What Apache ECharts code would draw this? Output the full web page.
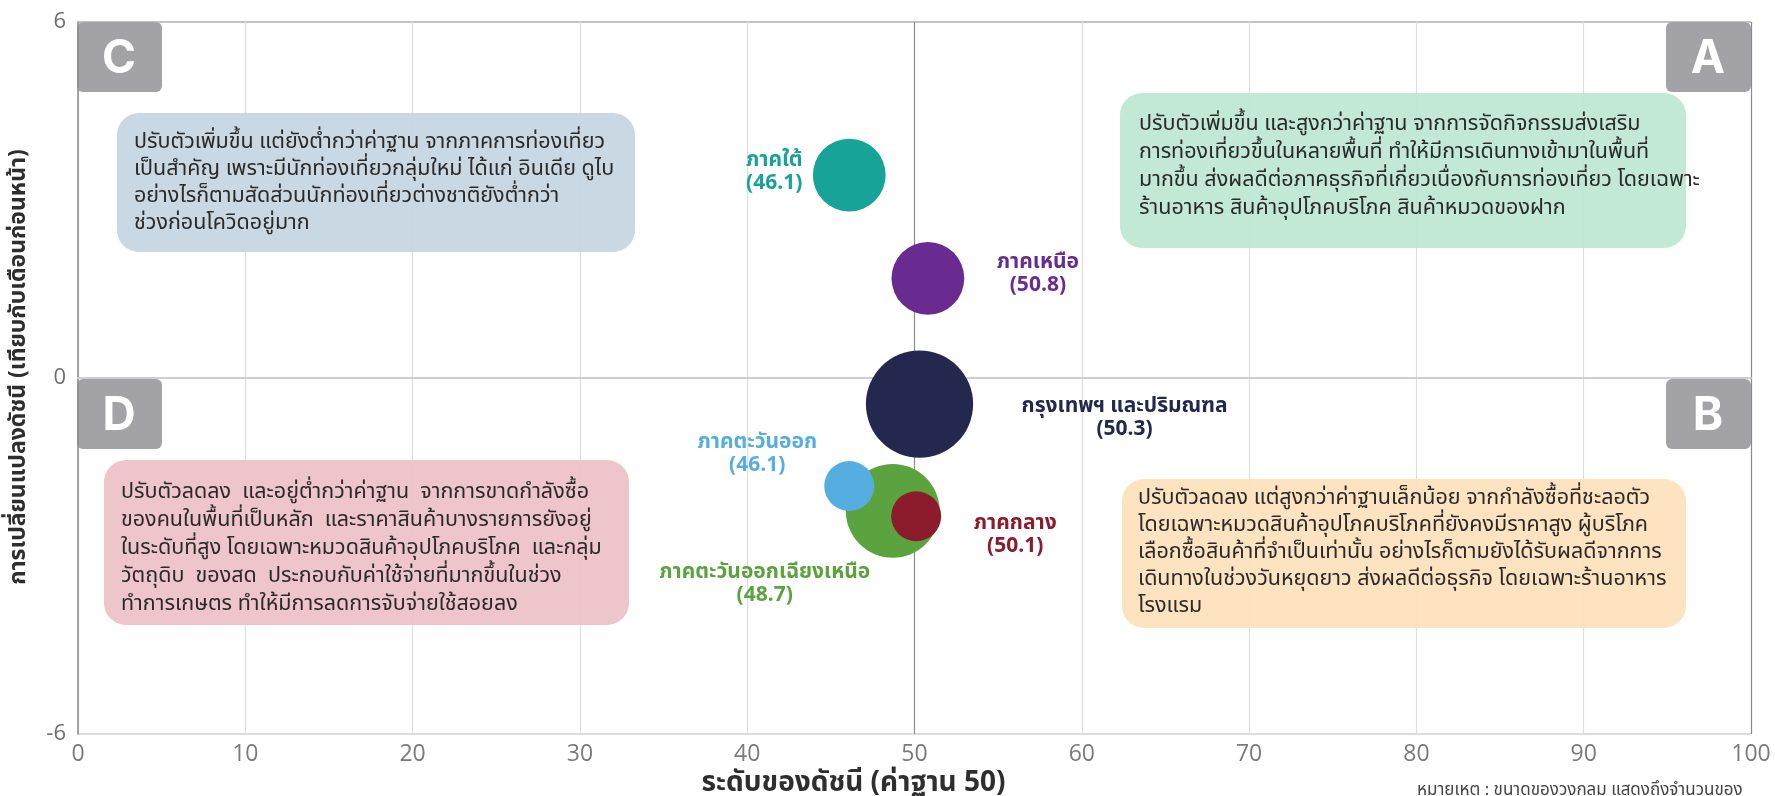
<!DOCTYPE html>
<html>
<head>
<meta charset="utf-8">
<script src="https://cdn.jsdelivr.net/npm/echarts@6/dist/echarts.min.js"></script>
<style>
  html, body { margin: 0; padding: 0; background: #ffffff; }
  #chart { width: 1775px; height: 796px; }
</style>
</head>
<body>
<div id="chart"></div>
<script>
// ---- data -------------------------------------------------------------
const regions = ['ภาคใต้', 'ภาคเหนือ', 'กรุงเทพฯ และปริมณฑล', 'ภาคตะวันออกเฉียงเหนือ', 'ภาคตะวันออก', 'ภาคกลาง'];
const indexLevel = [46.1, 50.8, 50.3, 48.7, 46.1, 50.1];        // ระดับของดัชนี
const monthlyChange = [3.42, 1.68, -0.44, -2.24, -1.82, -2.33];  // การเปลี่ยนแปลงดัชนี
const sampleWeight = [53, 53, 115, 88, 25, 25];                  // relative number of respondents
const xTicks = [0, 10, 20, 30, 40, 50, 60, 70, 80, 90, 100];
const yTicks = [-6, 0, 6];

const quadrantNotes = {
  A: ['ปรับตัวเพิ่มขึ้น และสูงกว่าค่าฐาน จากการจัดกิจกรรมส่งเสริม',
      'การท่องเที่ยวขึ้นในหลายพื้นที่ ทำให้มีการเดินทางเข้ามาในพื้นที่',
      'มากขึ้น ส่งผลดีต่อภาคธุรกิจที่เกี่ยวเนื่องกับการท่องเที่ยว โดยเฉพาะ',
      'ร้านอาหาร สินค้าอุปโภคบริโภค สินค้าหมวดของฝาก'],
  B: ['ปรับตัวลดลง แต่สูงกว่าค่าฐานเล็กน้อย จากกำลังซื้อที่ชะลอตัว',
      'โดยเฉพาะหมวดสินค้าอุปโภคบริโภคที่ยังคงมีราคาสูง ผู้บริโภค',
      'เลือกซื้อสินค้าที่จำเป็นเท่านั้น อย่างไรก็ตามยังได้รับผลดีจากการ',
      'เดินทางในช่วงวันหยุดยาว ส่งผลดีต่อธุรกิจ โดยเฉพาะร้านอาหาร',
      'โรงแรม'],
  C: ['ปรับตัวเพิ่มขึ้น แต่ยังต่ำกว่าค่าฐาน จากภาคการท่องเที่ยว',
      'เป็นสำคัญ เพราะมีนักท่องเที่ยวกลุ่มใหม่ ได้แก่ อินเดีย ดูไบ',
      'อย่างไรก็ตามสัดส่วนนักท่องเที่ยวต่างชาติยังต่ำกว่า',
      'ช่วงก่อนโควิดอยู่มาก'],
  D: ['ปรับตัวลดลง  และอยู่ต่ำกว่าค่าฐาน  จากการขาดกำลังซื้อ',
      'ของคนในพื้นที่เป็นหลัก  และราคาสินค้าบางรายการยังอยู่',
      'ในระดับที่สูง โดยเฉพาะหมวดสินค้าอุปโภคบริโภค  และกลุ่ม',
      'วัตถุดิบ  ของสด  ประกอบกับค่าใช้จ่ายที่มากขึ้นในช่วง',
      'ทำการเกษตร ทำให้มีการลดการจับจ่ายใช้สอยลง']
};

// ---- styling ----------------------------------------------------------
const FONT = '"Noto Sans Thai", "Noto Sans", "DejaVu Sans", sans-serif';
const regionColors = ['#17a398', '#6a2b91', '#25284e', '#5ba33f', '#55ade0', '#8c1b2b'];
const labelOffsets = [[-75, -2], [110, -3], [205, 15], [-128, 74], [-92, -31], [99, 20]];

const xSplitColors = xTicks.map(v => v === 50 ? '#8e8e8e' : (v === 100 ? '#8a8a8a' : '#dedede'));
const ySplitColors = yTicks.map(v => v === 0 ? '#8e8e8e' : (v === 6 ? '#b0b0b0' : '#d0d0d0'));

const bubbles = regions.map((name, i) => ({
  name: name,
  value: [indexLevel[i], monthlyChange[i], sampleWeight[i]],
  itemStyle: { color: regionColors[i], opacity: 1 },
  label: {
    show: true,
    position: 'inside',
    offset: labelOffsets[i],
    formatter: name + '\n(' + indexLevel[i].toFixed(1) + ')',
    color: regionColors[i],
    fontFamily: FONT,
    fontWeight: 'bold',
    fontSize: 21,
    lineHeight: 23,
    align: 'center',
    verticalAlign: 'middle'
  }
}));

const option = {
  animation: false,
  backgroundColor: '#ffffff',
  grid: { left: 78, right: 24, top: 22, bottom: 62, containLabel: false, outerBoundsMode: 'none' },
  xAxis: {
    type: 'value',
    min: 0, max: 100, interval: 10,
    name: 'ระดับของดัชนี (ค่าฐาน 50)',
    nameLocation: 'middle',
    nameGap: 32,
    nameTextStyle: { fontFamily: FONT, fontWeight: 'bold', fontSize: 28, color: '#2e2e2e',
                     padding: [0, 122, 0, 0] },
    axisLine: { show: true, lineStyle: { color: '#cfcfcf', width: 2 } },
    axisTick: { show: false },
    axisLabel: { fontFamily: '"Open Sans", sans-serif', fontSize: 23, color: '#7a7a7a', margin: 9,
                 formatter: v => String(v) },
    splitLine: { show: true, lineStyle: { color: xSplitColors, width: 1.2 } }
  },
  yAxis: {
    type: 'value',
    min: -6, max: 6, interval: 6,
    name: 'การเปลี่ยนแปลงดัชนี (เทียบกับเดือนก่อนหน้า)',
    nameLocation: 'middle',
    nameGap: 46,
    nameRotate: 90,
    nameTextStyle: { fontFamily: FONT, fontWeight: 'bold', fontSize: 23, color: '#2e2e2e',
                     padding: [0, 0, 0, 22] },
    axisLine: { show: true, lineStyle: { color: '#8a8a8a', width: 1.5 } },
    axisTick: { show: false },
    axisLabel: { fontFamily: '"Open Sans", sans-serif', fontSize: 22, color: '#6e6e6e', margin: 12 },
    splitLine: { show: true, lineStyle: { color: ySplitColors, width: 1.5 } }
  },
  series: [{
    type: 'scatter',
    data: bubbles,
    symbol: 'circle',
    symbolSize: v => Math.sqrt(v[2]) * 10,
    silent: true,
    z: 3
  }]
};

const chart = echarts.init(document.getElementById('chart'));
chart.setOption(option);

// ---- quadrant annotations --------------------------------------------
const [gx0, gyTop] = chart.convertToPixel({ gridIndex: 0 }, [0, 6]);
const [gx1] = chart.convertToPixel({ gridIndex: 0 }, [100, -6]);
const [, gyMid] = chart.convertToPixel({ gridIndex: 0 }, [50, 0]);

function tag(letter, x, y) {
  return {
    type: 'group', x: x, y: y, z: 1,
    children: [
      { type: 'rect', shape: { x: 0, y: 0, width: 85, height: 70, r: 6 }, style: { fill: '#a3a3a7' } },
      { type: 'text', x: 42, y: 37,
        style: { text: letter, fill: '#ffffff', font: 'bold 46px Inter, Lato, sans-serif',
                 align: 'center', verticalAlign: 'middle' } }
    ]
  };
}

function note(lines, box, textPos, lineHeight, fill) {
  return {
    type: 'group', x: box[0], y: box[1], z: -1,
    children: [
      { type: 'rect', shape: { x: 0, y: 0, width: box[2], height: box[3], r: 22 },
        style: { fill: fill, opacity: 0.92 } },
      { type: 'text', x: textPos[0], y: textPos[1],
        style: { text: lines.join('\n'), fill: '#2a2a2a', fontFamily: FONT, fontSize: 21.5,
                 lineHeight: lineHeight, align: 'left', verticalAlign: 'top' } }
    ]
  };
}

chart.setOption({
  graphic: [
    tag('C', gx0 - 1, gyTop),
    tag('A', gx1 - 85, gyTop),
    tag('D', gx0 - 1, gyMid + 1),
    tag('B', gx1 - 85, gyMid + 1),
    note(quadrantNotes.C, [117, 113, 518, 139], [17, 17], 27, '#c5d5e1'),
    note(quadrantNotes.A, [1120, 93, 566, 155], [19, 19], 28, '#bce7d3'),
    note(quadrantNotes.D, [104, 460, 525, 165], [17, 20], 28, '#ecc0c5'),
    note(quadrantNotes.B, [1122, 479, 564, 149], [16, 7], 27, '#fde1bb'),
    { type: 'text', x: 1417, y: 792, z: 5,
      style: { text: 'หมายเหตุ : ขนาดของวงกลม แสดงถึงจำนวนของ', fill: '#444444', fontFamily: FONT,
               fontSize: 17, align: 'left', verticalAlign: 'middle' } }
  ]
});
</script>
</body>
</html>
